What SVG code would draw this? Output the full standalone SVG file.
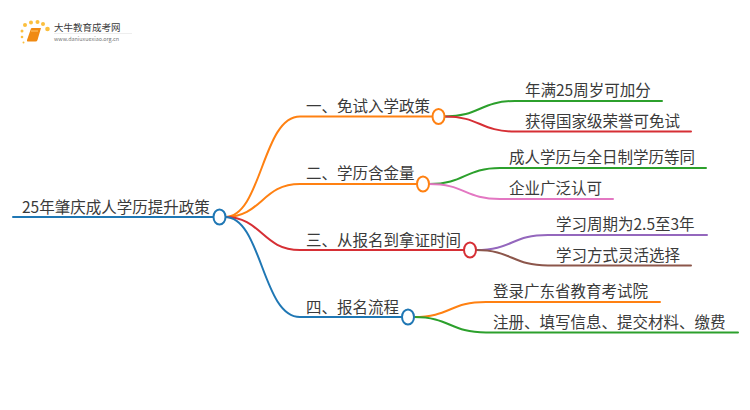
<svg xmlns="http://www.w3.org/2000/svg" width="750" height="410" viewBox="0 0 750 410">
<style>
text{font-family:"Noto Sans CJK SC","Liberation Sans",sans-serif;font-size:15.5px;fill:#3a3a3a}
.c{fill:none;stroke-width:2;stroke-linecap:round}
.n{fill:#fff;stroke-width:2}
.o{stroke:#ff8112}.g{stroke:#2ca02c}.r{stroke:#d62f35}.b{stroke:#1f77b4}.p{stroke:#e377c2}.v{stroke:#9467bd}.w{stroke:#8c564b}
</style>
<rect width="750" height="410" fill="#fff"/>
<g id="logo">
<g fill="#fbbf3e"><circle cx="25" cy="25" r="2"/><circle cx="31" cy="22.500" r="2"/><circle cx="37.500" cy="22" r="2"/><circle cx="43" cy="24" r="2"/><circle cx="47.500" cy="29" r="2.300"/><circle cx="22" cy="31" r="1.500"/><circle cx="22" cy="37" r="1.300"/><circle cx="23.500" cy="42.500" r="1"/></g>
<path d="M31 28.500Q31 28 32 28H41L37.500 40Q37 41.500 35.500 41.500H28Q26.500 41.500 27 40Z" fill="#f08a12"/>
<path d="M31 31H38" stroke="#ffc56a" stroke-width="1"/>
<text x="54" y="31" style="font-size:9.500px">大牛教育成考网</text>
<text x="54" y="41" style="font-size:5.400px;fill:#777">www.daniuxuexiao.org.cn</text>
<path d="M54 33.500H132" stroke="#eee" stroke-width="1"/>
</g>
<g id="connectors">
<path class="c b" d="M13 217H213"/>
<path class="c o" d="M225 217C262 217 262 116.500 300 116.500H432"/>
<path class="c o" d="M225 217C262 217 262 184 300 184H417"/>
<path class="c r" d="M225 217C262 217 262 250 300 250H464"/>
<path class="c b" d="M225 217C262 217 262 317 300 317H402"/>
<path class="c g" d="M445 116.500C480 116.500 480 101 515 101H662"/>
<path class="c r" d="M445 116.500C480 116.500 480 131.500 515 131.500H691"/>
<path class="c g" d="M429 184C465 184 465 168 500 168H706"/>
<path class="c p" d="M429 184C465 184 465 199 500 199H613"/>
<path class="c v" d="M476 250C512 250 512 235 548 235H707"/>
<path class="c w" d="M476 250C512 250 512 265.500 548 265.500H691"/>
<path class="c o" d="M414 317C450 317 450 302 486 302H660"/>
<path class="c g" d="M414 317C450 317 450 332.500 486 332.500H738"/>
</g>
<g id="root"><ellipse class="n b" cx="219.500" cy="217" rx="6" ry="7.500"/><text x="22" y="213">25年肇庆成人学历提升政策</text></g>
<g id="n1"><ellipse class="n o" cx="438.500" cy="116.500" rx="6" ry="7.500"/><text x="306" y="112">一、免试入学政策</text></g>
<g id="n2"><ellipse class="n o" cx="423" cy="184" rx="6" ry="7.500"/><text x="306" y="179">二、学历含金量</text></g>
<g id="n3"><ellipse class="n r" cx="470" cy="250" rx="6" ry="7.500"/><text x="306" y="246">三、从报名到拿证时间</text></g>
<g id="n4"><ellipse class="n b" cx="408" cy="317" rx="6" ry="7.500"/><text x="306" y="313">四、报名流程</text></g>
<g id="n1a"><text x="525" y="96">年满25周岁可加分</text></g>
<g id="n1b"><text x="525" y="127">获得国家级荣誉可免试</text></g>
<g id="n2a"><text x="509" y="163">成人学历与全日制学历等同</text></g>
<g id="n2b"><text x="509" y="194">企业广泛认可</text></g>
<g id="n3a"><text x="556" y="230">学习周期为2.5至3年</text></g>
<g id="n3b"><text x="556" y="261">学习方式灵活选择</text></g>
<g id="n4a"><text x="493" y="297">登录广东省教育考试院</text></g>
<g id="n4b"><text x="493" y="328">注册、填写信息、提交材料、缴费</text></g>
</svg>
